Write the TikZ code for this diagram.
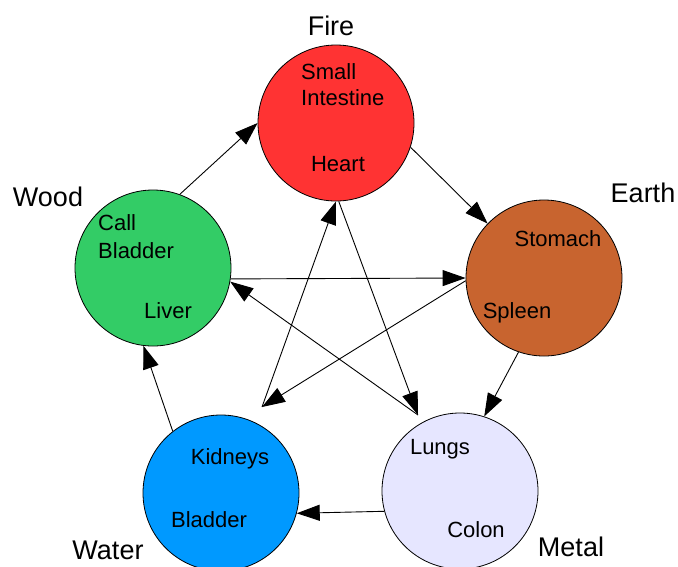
\documentclass[tikz,border=0pt]{standalone}
\usepackage{fontspec}
\setmainfont{Liberation Sans}
\usetikzlibrary{arrows.meta}
\definecolor{firered}{HTML}{FF3333}
\definecolor{earthbrown}{HTML}{C8642F}
\definecolor{woodgreen}{HTML}{33CC66}
\definecolor{waterblue}{HTML}{0099FF}
\definecolor{metalgrey}{HTML}{E6E6FF}
\tikzset{
element/.style={
  circle,
  line width=0.8pt,
  inner sep=0pt,
  minimum size=156pt,
  draw=black,
  }
}
\tikzset{
organ/.style={
  font=\fontsize{22}{26}\selectfont,
  inner sep=0pt,
  text height=15.8pt,
  text depth=0pt,
  }
}
\tikzset{
elemlabel/.style={
  organ,
  font=\fontsize{27}{32}\selectfont,
  text height=19.4pt,
  }
}
\tikzset{
flow/.style={
  line width=0.9pt,
  -{Triangle[length=23pt,width=16pt]}
  }
}

\begin{document}
\begin{tikzpicture}[x=1pt,y=-1pt]
    \useasboundingbox (0,0) rectangle (678,566);

    % elements
    \node[element, fill=firered] (fire) at (336,123) {};
    \node[element, fill=earthbrown] (earth) at (544,278) {};
    \node[element, fill=woodgreen] (wood) at (153,268) {};
    \node[element, fill=waterblue] (water) at (221,493) {};
    \node[element, fill=metalgrey] (metal) at (460,491) {};

    % element names
    \node[elemlabel] (firename) at (331,26) {Fire};
    \node[elemlabel] (earthname) at (643,193) {Earth};
    \node[elemlabel] (woodname) at (48,197) {Wood};
    \node[elemlabel] (watername) at (108,550) {Water};
    \node[elemlabel] (metalname) at (571,547) {Metal};

    % organs
    \node[organ, anchor=west] (small) at (301,72) {Small};
    \node[organ, anchor=west] (intestine) at (301,98) {Intestine};
    \node[organ] (heart) at (338,164) {Heart};
    \node[organ] (stomach) at (558,239) {Stomach};
    \node[organ] (spleen) at (517,311) {Spleen};
    \node[organ, anchor=west] (call) at (98,223) {Call};
    \node[organ, anchor=west] (gbladder) at (98,251) {Bladder};
    \node[organ] (liver) at (168,311) {Liver};
    \node[organ] (kidneys) at (230,457) {Kidneys};
    \node[organ] (bladder) at (209,520) {Bladder};
    \node[organ] (lungs) at (440,447) {Lungs};
    \node[organ] (colon) at (476,530) {Colon};

    % meeting points of the star
    \coordinate (waterhub) at (262,407);
    \coordinate (metalhub) at (418,415);

    % generating cycle
    \draw[flow] (wood.70) -- (fire.180);
    \draw[flow] (fire.-18) -- (earth.136);
    \draw[flow] (earth.-109) -- (metal.72);
    \draw[flow] (metal.195) -- (water.-15);
    \draw[flow] (water.128) -- (wood.-97);

    % controlling cycle
    \draw[flow] (wood.-8) -- (earth.180);
    \draw[flow] (earth.182) -- (waterhub);
    \draw[flow] (waterhub) -- (fire.-90);
    \draw[flow] (fire.-88) -- (metalhub);
    \draw[flow] (metalhub) -- (wood.-10);
\end{tikzpicture}
\end{document}
